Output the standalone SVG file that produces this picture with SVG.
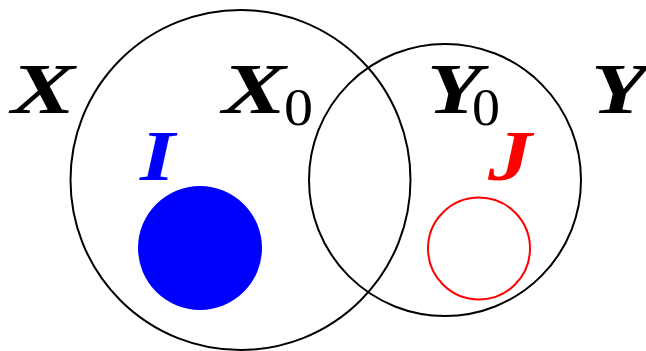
<svg xmlns="http://www.w3.org/2000/svg" width="646" height="351" viewBox="0 0 646 351">
<style>
.set{fill:none;stroke:#000;stroke-width:2}
.lbl{font-family:"Liberation Serif","Times New Roman",serif;font-style:italic;font-weight:bold;font-size:71px}
.sub{font-family:"Liberation Serif","Times New Roman",serif;font-style:normal;font-weight:normal;font-size:53px}
</style>
<rect width="646" height="351" fill="#fff"/>
<g id="X0">
<circle class="set" cx="240.5" cy="180" r="170"/>
</g>
<g id="Y0">
<circle class="set" cx="445" cy="180" r="136"/>
</g>
<g id="I">
<circle cx="200" cy="248" r="62" fill="#0000ff"/>
</g>
<g id="J">
<circle cx="479" cy="248.5" r="51" fill="none" stroke="#ff0000" stroke-width="2"/>
</g>
<g id="labels">
<text class="lbl" x="11" y="113" textLength="64" lengthAdjust="spacingAndGlyphs">X</text>
<text class="lbl" y="113"><tspan x="222" textLength="64" lengthAdjust="spacingAndGlyphs">X</tspan><tspan class="sub" x="284" y="125" textLength="29" lengthAdjust="spacingAndGlyphs">0</tspan></text>
<text class="lbl" y="113"><tspan x="427" textLength="55" lengthAdjust="spacingAndGlyphs">Y</tspan><tspan class="sub" x="472" y="125" textLength="28" lengthAdjust="spacingAndGlyphs">0</tspan></text>
<text class="lbl" x="591" y="113" textLength="56" lengthAdjust="spacingAndGlyphs">Y</text>
<text class="lbl" x="140" y="180" fill="#0000ff" textLength="35" lengthAdjust="spacingAndGlyphs">I</text>
<text class="lbl" x="488" y="180" fill="#ff0000" textLength="44" lengthAdjust="spacingAndGlyphs">J</text>
</g>
</svg>
